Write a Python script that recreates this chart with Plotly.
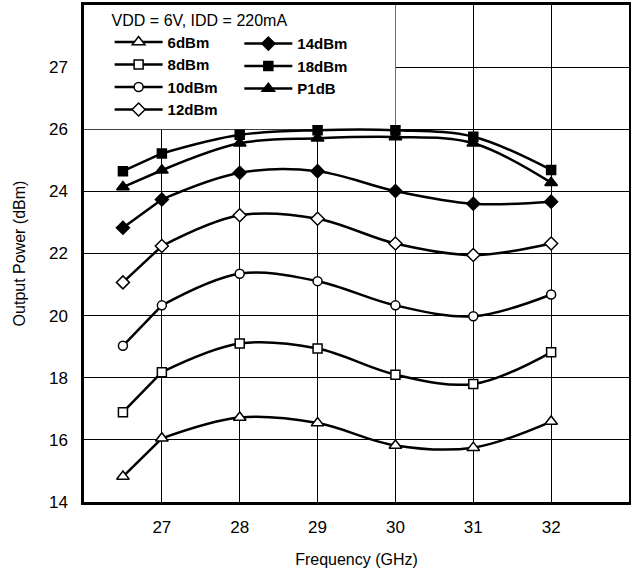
import plotly.graph_objects as go

freq = [26.5, 27, 28, 29, 30, 31, 32]
p6 = [14.82, 16.05, 16.72, 16.54, 15.82, 15.75, 16.59]
p8 = [16.89, 18.18, 19.10, 18.94, 18.10, 17.80, 18.82]
p10 = [19.03, 20.33, 21.35, 21.11, 20.33, 19.98, 20.68]
p12 = [21.07, 22.24, 23.23, 23.12, 22.32, 21.95, 22.32]
p14 = [22.83, 23.74, 24.60, 24.65, 24.01, 23.60, 23.67]
p18 = [24.65, 25.22, 25.82, 25.97, 25.97, 25.76, 24.69]
p1db = [24.14, 24.68, 25.55, 25.71, 25.75, 25.55, 24.28]

x_ticks = [27, 28, 29, 30, 31, 32]
y_ticks = [14, 16, 18, 20, 22, 24, 26, 28]
y_labels = ["14", "16", "18", "20", "22", "24", "26", "27"]

FONT = "Liberation Sans, Arial, Helvetica, sans-serif"

series = [
    ("6dBm", p6, "triangle-up", "white", 11, "legend"),
    ("8dBm", p8, "square", "white", 9, "legend"),
    ("10dBm", p10, "circle", "white", 9, "legend"),
    ("12dBm", p12, "diamond", "white", 10, "legend"),
    ("14dBm", p14, "diamond", "black", 10, "legend2"),
    ("18dBm", p18, "square", "black", 9, "legend2"),
    ("P1dB", p1db, "triangle-up", "black", 11, "legend2"),
]

fig = go.Figure()

# straight first segments
for name, vals, sym, fill, size, lg in series:
    fig.add_trace(go.Scatter(
        x=freq[:2], y=vals[:2], mode="lines",
        line=dict(color="black", width=2.5), showlegend=False, hoverinfo="skip",
    ))

for name, vals, sym, fill, size, lg in series:
    xs = [freq[0], None] + freq[1:]
    ys = [vals[0], None] + vals[1:]
    fig.add_trace(go.Scatter(
        x=xs, y=ys, mode="lines+markers", name=name, legend=lg,
        connectgaps=False,
        line=dict(color="black", width=2.5, shape="spline", smoothing=1.0),
        marker=dict(symbol=sym, color=fill, size=size, line=dict(color="black", width=1.5)),
    ))

# white area behind the legend
fig.add_shape(type="rect", xref="x", yref="y", x0=26, x1=30, y0=26, y1=30,
              fillcolor="white", line=dict(width=0), layer="between")

fig.update_layout(
    template="none",
    width=631, height=569,
    margin=dict(l=84, r=2, t=5, b=67, autoexpand=False),
    paper_bgcolor="white", plot_bgcolor="white",
    font=dict(family=FONT, size=16, color="black"),
    legend=dict(
        x=0.047, y=1.0, xanchor="left", yanchor="top",
        bgcolor="rgba(0,0,0,0)", borderwidth=0,
        title=dict(text="VDD = 6V, IDD = 220mA",
                   font=dict(size=16, family=FONT, weight="normal")),
        font=dict(size=15, family=FONT, weight="bold"),
        itemwidth=48, tracegroupgap=0, traceorder="normal",
    ),
    legend2=dict(
        x=0.285, y=0.955, xanchor="left", yanchor="top",
        bgcolor="rgba(0,0,0,0)", borderwidth=0,
        font=dict(size=15, family=FONT, weight="bold"),
        itemwidth=48, tracegroupgap=0, traceorder="normal",
    ),
    xaxis=dict(
        range=[26, 33], tickvals=x_ticks, showgrid=True, gridcolor="black", gridwidth=1.3,
        zeroline=False, showline=True, linecolor="black", linewidth=2.5, mirror=True,
        ticks="", ticklabelstandoff=8, tickfont=dict(size=17, family=FONT),
        automargin=False,
        title=dict(text="Frequency (GHz)", font=dict(size=16, family=FONT), standoff=18),
    ),
    yaxis=dict(
        range=[14, 30], tickvals=y_ticks, ticktext=y_labels, showgrid=True,
        gridcolor="black", gridwidth=1.3,
        zeroline=False, showline=True, linecolor="black", linewidth=2.5, mirror=True,
        ticks="", ticklabelstandoff=10, tickfont=dict(size=17, family=FONT),
        automargin=False,
        title=dict(text="Output Power (dBm)", font=dict(size=16, family=FONT), standoff=20),
    ),
)

fig.write_html("out.html", config={"displayModeBar": False},
               post_script="document.body.style.margin='0';")
